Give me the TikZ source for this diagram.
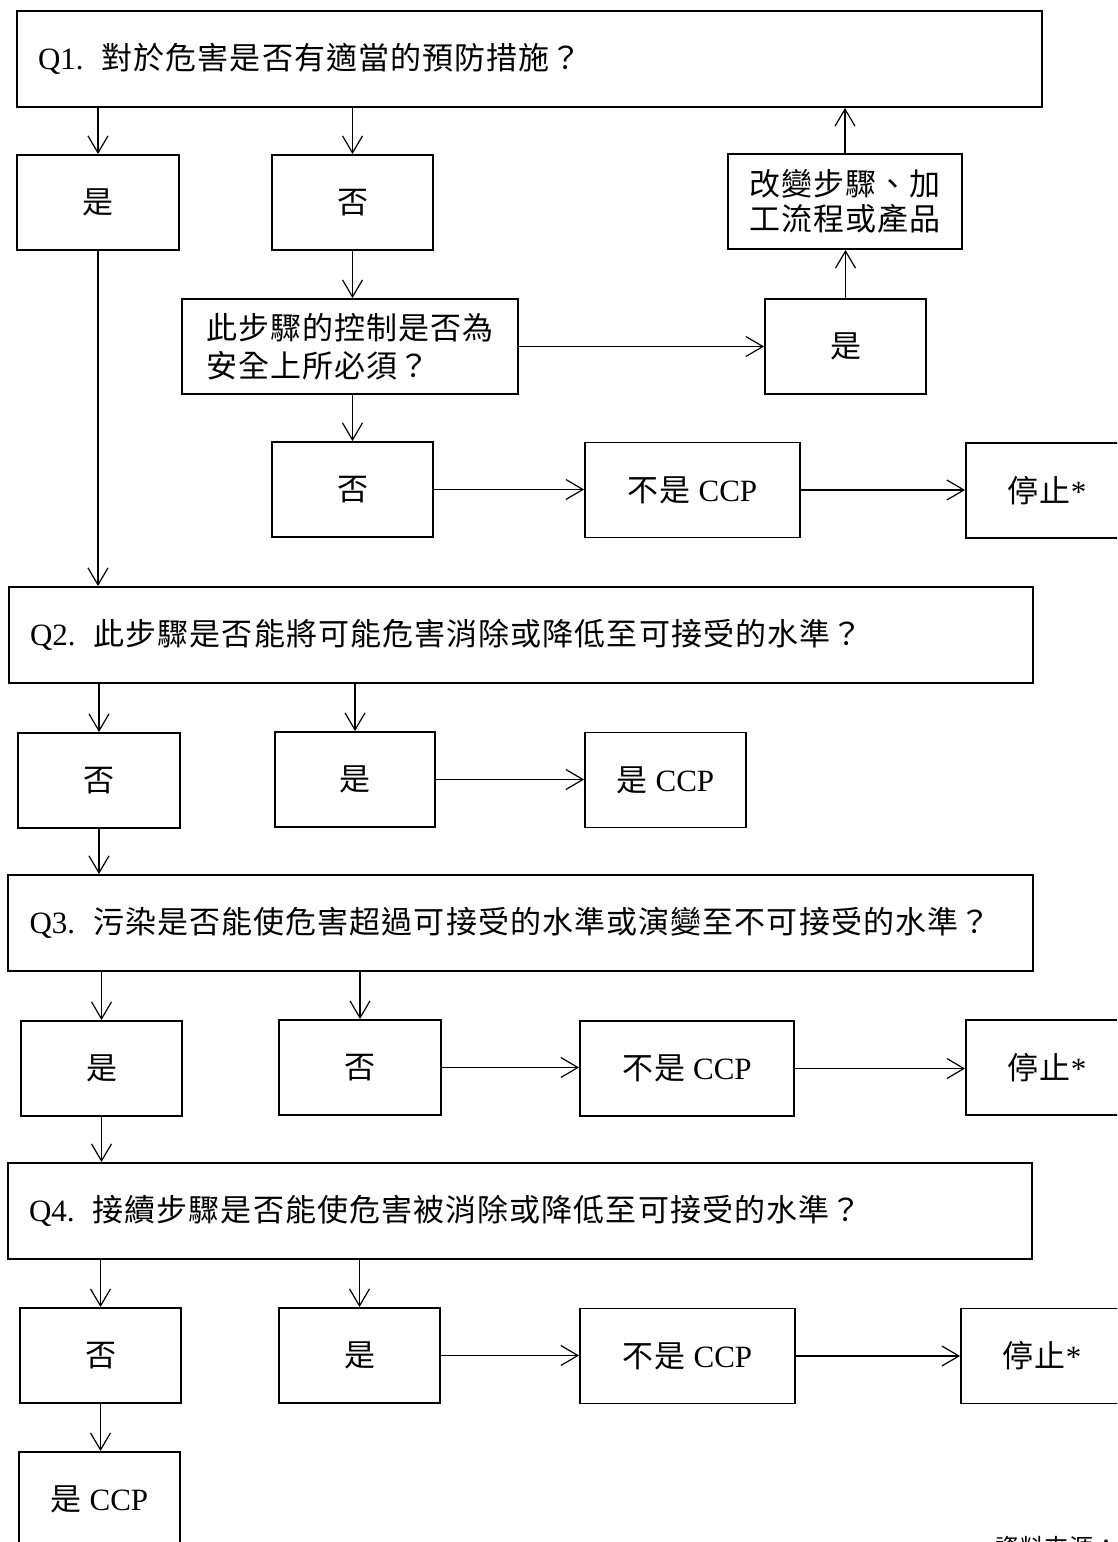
\documentclass[tikz,border=0pt]{standalone}
\usepackage{fontspec}
\setmainfont{Liberation Serif}
\newfontfamily\cjk[LetterSpace=3.5]{Noto Sans CJK TC}
\usetikzlibrary{arrows.meta}
\begin{document}
\begin{tikzpicture}[x=1pt,y=-1pt,
  box/.style={draw, line width=1.9pt, inner sep=0pt, minimum height=95pt,
    font={\fontsize{31pt}{38pt}\selectfont}},
  qbox/.style={box, minimum height=96pt, align=left},
  arr/.style={line width=1.2pt, -{Straight Barb[length=17pt,width=20pt]}}
]
\useasboundingbox (0,0) rectangle (1117,1542);
\clip (0,0) rectangle (1117,1542);
\fill[white] (0,0) rectangle (1117,1542);

% Q1 block
\node[qbox, minimum width=1025pt, text width=983pt] (q1) at (529.5,59)
  {Q1.\hspace{18pt}{\cjk 對於危害是否有適當的預防措施？}};
\node[box, minimum width=162pt] (y1) at (98,202.5) {{\cjk 是}};
\node[box, minimum width=161pt] (n1) at (352.5,202.5) {{\cjk 否}};
\node[box, minimum width=234pt, align=center, font={\fontsize{31pt}{35pt}\selectfont}] (ch) at (845,201.5)
  {{\cjk 改變步驟、加}\\{\cjk 工流程或產品}};
\node[box, minimum width=336pt, align=left] (ctl) at (350,346.5)
  {{\cjk 此步驟的控制是否為}\\{\cjk 安全上所必須？}};
\node[box, minimum width=161pt] (y1b) at (845.5,346.5) {{\cjk 是}};
\node[box, minimum width=161pt] (n1b) at (352.5,489.5) {{\cjk 否}};
\node[box, minimum width=215pt] (nc1) at (692.5,490) {{\cjk 不是} CCP};
\node[box, minimum width=162pt] (st1) at (1047,490.5) {{\cjk 停止}*};

% Q2 block
\node[qbox, minimum width=1024pt, text width=982pt] (q2) at (521,635)
  {Q2.\hspace{18pt}{\cjk 此步驟是否能將可能危害消除或降低至可接受的水準？}};
\node[box, minimum width=162pt] (n2) at (99,780.5) {{\cjk 否}};
\node[box, minimum width=160pt] (y2) at (355,779.5) {{\cjk 是}};
\node[box, minimum width=161pt] (ycp2) at (665.5,780) {{\cjk 是} CCP};

% Q3 block
\node[qbox, minimum width=1025pt, text width=982pt] (q3) at (520.5,923)
  {Q3.\hspace{18pt}{\cjk 污染是否能使危害超過可接受的水準或演變至不可接受的水準？}};
\node[box, minimum width=161pt] (y3) at (101.5,1068.5) {{\cjk 是}};
\node[box, minimum width=162pt] (n3) at (360,1067.5) {{\cjk 否}};
\node[box, minimum width=214pt] (nc3) at (687,1068.5) {{\cjk 不是} CCP};
\node[box, minimum width=162pt] (st3) at (1047,1067.5) {{\cjk 停止}*};

% Q4 block
\node[qbox, minimum width=1024pt, text width=982pt] (q4) at (520,1211)
  {Q4.\hspace{18pt}{\cjk 接續步驟是否能使危害被消除或降低至可接受的水準？}};
\node[box, minimum width=161pt] (n4) at (100.5,1355.5) {{\cjk 否}};
\node[box, minimum width=161pt] (y4) at (359.5,1355.5) {{\cjk 是}};
\node[box, minimum width=215pt] (nc4) at (687.5,1356) {{\cjk 不是} CCP};
\node[box, minimum width=162pt] (st4) at (1042,1356) {{\cjk 停止}*};
\node[box, minimum width=161pt] (ycp4) at (99.5,1499.5) {{\cjk 是} CCP};

\node[anchor=north west, inner sep=0pt, font={\fontsize{24pt}{28pt}\selectfont}] (src) at (995,1536)
  {{\cjk 資料來源：}};

% connectors, Q1 block
\draw[arr] (q1.south -| y1.north) -- (y1.north);
\draw[arr] (q1.south -| n1.north) -- (n1.north);
\draw[arr] (n1.south) -- (n1.south |- ctl.north);
\draw[arr] (ctl.south -| n1b.north) -- (n1b.north);
\draw[arr] (ctl.east) -- (ctl.east -| y1b.west);
\draw[arr] (y1b.north) -- (y1b.north |- ch.south);
\draw[arr] (ch.north) -- (ch.north |- q1.south);
\draw[arr] (n1b.east) -- (n1b.east -| nc1.west);
\draw[arr] (nc1.east) -- (nc1.east -| st1.west);
\draw[arr] (y1.south) -- (y1.south |- q2.north);

% Q2 block
\draw[arr] (q2.south -| n2.north) -- (n2.north);
\draw[arr] (q2.south -| y2.north) -- (y2.north);
\draw[arr] (y2.east) -- (y2.east -| ycp2.west);
\draw[arr] (n2.south) -- (n2.south |- q3.north);

% Q3 block
\draw[arr] (q3.south -| y3.north) -- (y3.north);
\draw[arr] (q3.south -| n3.north) -- (n3.north);
\draw[arr] (n3.east) -- (n3.east -| nc3.west);
\draw[arr] (nc3.east) -- (nc3.east -| st3.west);
\draw[arr] (y3.south) -- (y3.south |- q4.north);

% Q4 block
\draw[arr] (q4.south -| n4.north) -- (n4.north);
\draw[arr] (q4.south -| y4.north) -- (y4.north);
\draw[arr] (y4.east) -- (y4.east -| nc4.west);
\draw[arr] (nc4.east) -- (nc4.east -| st4.west);
\draw[arr] (n4.south) -- (n4.south |- ycp4.north);
\end{tikzpicture}
\end{document}
